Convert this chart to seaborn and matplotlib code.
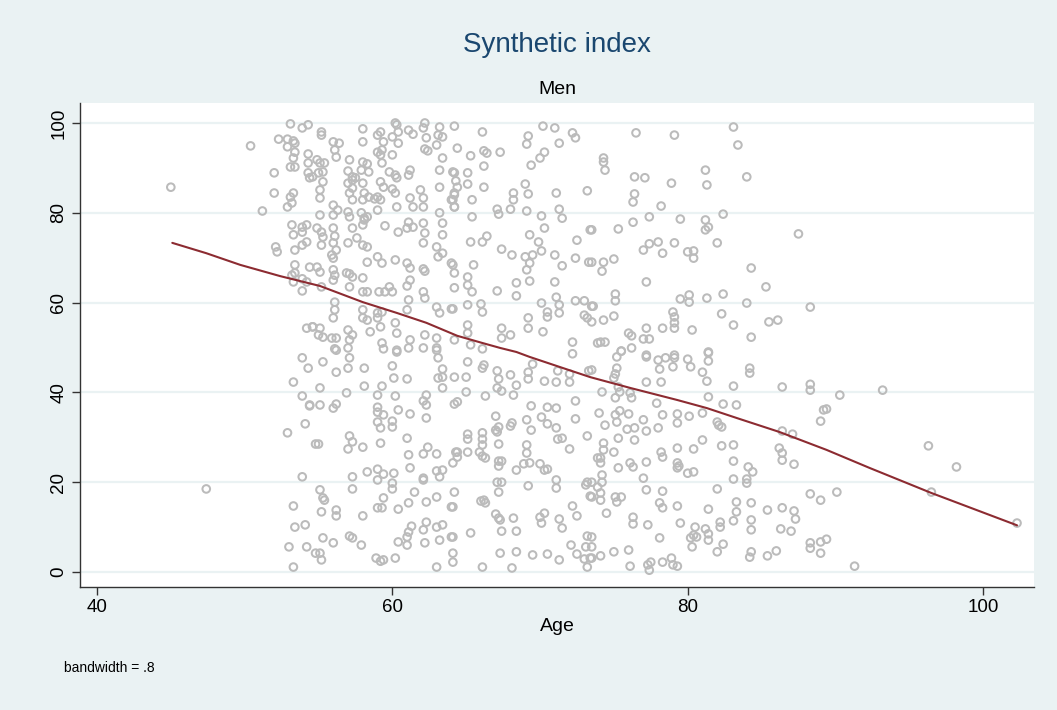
import matplotlib
matplotlib.use("Agg")
import matplotlib.pyplot as plt
import seaborn as sns
import pandas as pd

# ---------------- data (age, synthetic index) ----------------
pts_young = [
    (45.0, 85.7), (47.4, 18.5), (50.4, 94.9), (51.2, 80.4), (52.3, 96.4), (52.0, 88.9), (52.0, 84.4),
    (52.1, 72.4), (52.2, 71.3), (53.1, 99.8), (53.9, 98.9), (54.3, 99.6), (52.9, 96.4), (53.3, 96.0),
    (53.4, 95.5), (52.9, 94.7), (53.4, 93.5), (53.3, 92.2), (53.1, 90.2), (53.4, 90.2), (54.3, 93.1),
    (54.3, 91.1), (54.3, 88.9), (54.4, 87.8), (53.3, 84.4), (53.1, 83.5), (53.2, 82.2), (52.9, 81.3),
    (53.2, 77.3), (53.3, 75.1), (53.9, 76.8), (54.2, 77.3), (53.9, 75.7), (53.9, 72.8), (54.2, 73.5),
    (53.4, 71.7), (53.4, 68.4), (54.4, 67.9), (53.2, 66.1), (53.4, 66.6), (53.3, 64.6), (53.9, 65.3),
    (54.2, 64.6), (53.9, 62.6), (54.2, 54.3), (54.6, 54.6), (53.9, 47.7), (54.3, 45.4), (53.3, 42.3),
    (53.9, 39.2), (54.4, 37.0), (54.1, 33.0), (52.9, 31.0), (54.8, 28.5), (53.9, 21.2), (53.3, 14.7),
    (53.4, 10.0), (54.1, 10.5), (53.0, 5.6), (54.2, 5.6), (54.8, 4.2), (53.3, 1.1),
]

pts_55_64_high = [
    (55.2, 98.0), (55.2, 97.3), (56.0, 95.8), (56.4, 95.5), (56.1, 94.0), (56.2, 92.4), (57.1, 91.8),
    (54.9, 91.8), (55.1, 91.1), (55.4, 91.1), (55.3, 89.1), (55.0, 88.9), (54.6, 88.0), (58.0, 98.7),
    (58.0, 95.8), (59.0, 97.3), (59.2, 98.0), (59.4, 95.8), (59.0, 93.5), (59.2, 92.9), (59.3, 94.0),
    (59.3, 91.1), (60.2, 100.0), (60.3, 99.6), (60.0, 96.9), (60.4, 98.0), (60.4, 95.5), (60.0, 92.9),
    (61.1, 98.4), (61.4, 97.5), (62.2, 100.0), (62.1, 98.9), (62.3, 96.7), (62.2, 94.2), (62.4, 93.8),
    (63.2, 99.1), (63.1, 97.3), (63.4, 96.9), (63.0, 95.1), (63.4, 92.2), (58.0, 91.3), (58.3, 90.9),
    (57.9, 89.5), (58.4, 89.1), (57.0, 89.3), (57.3, 88.0), (59.8, 89.1), (60.2, 88.4), (60.3, 87.8),
    (61.2, 89.5), (61.1, 88.4), (63.2, 89.5), (64.1, 89.1), (55.3, 86.9), (55.1, 85.1), (55.1, 83.3),
    (57.3, 87.3), (57.0, 86.6), (57.3, 85.5), (57.5, 87.8), (57.1, 84.4), (58.0, 86.6), (58.1, 84.4),
    (59.2, 86.9), (59.4, 85.7), (59.0, 83.5), (60.0, 85.3), (60.2, 84.4), (57.3, 82.9), (58.0, 82.9),
    (58.4, 83.5), (58.8, 83.1), (59.2, 82.9), (61.2, 83.3), (61.9, 85.1), (62.1, 83.3), (62.1, 81.3),
    (63.2, 85.7), (64.0, 82.9), (64.2, 84.4), (60.3, 81.3), (61.4, 81.3), (56.0, 81.7), (56.3, 80.6),
    (55.1, 79.5), (56.0, 79.5), (57.0, 80.2), (57.1, 79.1), (57.9, 80.0), (58.1, 78.8), (58.3, 79.1),
    (59.0, 80.6), (63.2, 80.0), (64.2, 81.3), (54.9, 76.6), (55.2, 75.7), (55.3, 74.6), (56.0, 76.6),
    (56.1, 74.8), (57.3, 76.6), (58.0, 77.3), (58.1, 78.4), (59.5, 77.1), (60.4, 75.7), (61.1, 77.9),
    (61.4, 76.8), (61.0, 76.6), (62.1, 77.7), (62.2, 75.5), (62.1, 73.3), (63.4, 77.7), (63.4, 75.1),
    (55.2, 72.8), (56.0, 73.3), (56.2, 71.7), (57.0, 73.3), (57.6, 74.4), (58.0, 72.8), (58.3, 72.4),
    (63.0, 72.4), (63.1, 70.2), (63.4, 71.0), (55.9, 70.6), (56.0, 69.9), (58.3, 69.0), (59.0, 70.2),
    (59.3, 68.8), (60.2, 69.5), (61.0, 68.8), (61.2, 67.7), (62.1, 67.5), (62.2, 67.0), (54.9, 67.9),
    (55.1, 66.8), (56.0, 67.3), (56.1, 66.1), (56.9, 66.6), (57.1, 66.4), (57.3, 65.7), (58.0, 65.5),
    (64.0, 68.8), (55.2, 63.5), (56.0, 65.0), (56.1, 60.1), (56.1, 58.4), (56.0, 56.6), (57.1, 63.5),
    (58.0, 62.4), (58.3, 62.4), (59.1, 62.4), (59.5, 62.4), (59.8, 63.5), (60.0, 62.4), (61.0, 63.7),
    (61.2, 65.0), (62.1, 62.4), (62.2, 61.0), (58.0, 58.4), (59.0, 57.7), (59.0, 56.6), (59.3, 57.9),
    (60.2, 55.5), (61.1, 60.6), (61.0, 58.4), (63.0, 59.0), (63.2, 57.7), (64.0, 58.6), (54.6, 54.6),
    (55.1, 54.3), (55.3, 52.3), (55.0, 52.8), (55.9, 52.1), (56.2, 52.1), (57.0, 53.9), (57.3, 52.8),
    (57.1, 51.7), (58.0, 56.6), (58.3, 56.1), (58.5, 53.5), (59.2, 54.6), (59.3, 51.0), (59.4, 49.7),
    (60.3, 53.2), (60.3, 49.4), (61.1, 49.9), (61.2, 51.7), (62.2, 52.8), (63.0, 52.1), (63.0, 49.9),
    (56.1, 49.7), (57.0, 49.9),
]

pts_55_64_low = [
    (56.2, 49.4), (57.1, 47.7), (55.3, 46.8), (56.2, 44.5), (57.0, 45.4), (58.1, 45.4), (60.3, 49.0),
    (62.1, 49.9), (63.0, 49.4), (63.1, 47.7), (60.0, 45.9), (60.1, 43.2), (61.0, 43.0), (63.4, 45.2),
    (63.1, 43.2), (63.4, 43.4), (55.1, 41.0), (58.1, 41.4), (59.3, 41.4), (56.9, 39.9), (59.0, 39.4),
    (60.2, 39.2), (63.4, 41.0), (54.4, 37.2), (55.1, 37.2), (56.0, 36.5), (56.2, 37.4), (59.0, 36.7),
    (59.0, 35.6), (59.4, 35.0), (60.4, 36.1), (61.2, 35.2), (62.3, 39.4), (62.1, 38.1), (62.3, 37.2),
    (62.3, 34.3), (59.0, 33.4), (59.2, 32.1), (60.0, 33.6), (60.0, 32.3), (57.1, 30.3), (57.3, 29.0),
    (57.0, 27.4), (58.0, 27.8), (59.2, 28.7), (61.0, 29.8), (55.0, 28.5), (61.1, 26.1), (62.1, 26.3),
    (62.4, 27.8), (63.0, 26.3), (64.3, 26.7), (57.3, 21.2), (58.3, 22.3), (59.0, 22.9), (59.4, 21.8),
    (59.0, 20.5), (60.1, 22.0), (61.2, 23.2), (62.1, 20.9), (62.1, 20.5), (63.0, 22.5), (63.4, 22.7),
    (63.2, 21.2), (55.1, 18.3), (55.3, 16.5), (55.4, 16.0), (57.3, 18.5), (60.0, 19.8), (60.0, 18.5),
    (59.4, 16.5), (61.5, 17.8), (55.2, 13.4), (56.2, 13.8), (56.2, 12.5), (58.0, 12.5), (59.0, 14.3),
    (59.3, 14.3), (60.4, 14.0), (61.1, 15.4), (62.3, 15.6), (63.0, 16.7), (64.0, 14.5), (61.3, 10.2),
    (61.1, 8.9), (61.0, 7.8), (62.1, 9.4), (62.3, 11.1), (63.0, 10.0), (63.4, 10.5), (60.4, 6.7),
    (61.0, 6.0), (62.2, 6.5), (63.2, 7.1), (64.0, 7.8), (55.3, 7.6), (56.0, 6.5), (57.1, 8.0),
    (57.3, 7.6), (57.9, 6.0), (55.1, 4.2), (55.2, 2.7), (58.9, 3.1), (59.2, 2.4), (59.4, 2.7),
    (60.2, 3.1), (63.0, 1.1),
]

pts_64_74_high = [
    (64.2, 99.3), (66.1, 98.0), (70.2, 99.3), (71.0, 98.9), (72.2, 97.8), (72.4, 96.7), (69.2, 97.1),
    (69.1, 95.3), (71.3, 95.5), (64.4, 94.4), (65.3, 92.7), (66.2, 93.8), (66.4, 93.3), (67.3, 93.5),
    (70.3, 93.5), (70.0, 92.2), (69.4, 90.6), (66.2, 90.4), (64.2, 88.9), (65.1, 88.9), (64.3, 87.1),
    (64.4, 85.7), (64.2, 84.0), (64.1, 82.9), (64.2, 81.3), (65.1, 86.4), (66.2, 85.7), (65.4, 82.9),
    (69.0, 86.4), (69.2, 84.2), (68.2, 84.4), (68.2, 82.9), (71.1, 84.4), (73.2, 84.9), (67.1, 80.8),
    (67.2, 79.7), (68.0, 80.8), (69.1, 80.4), (71.3, 80.8), (71.5, 78.8), (70.1, 79.3), (65.4, 79.1),
    (70.3, 76.6), (65.3, 73.5), (66.1, 73.5), (66.4, 74.8), (69.3, 75.1), (69.9, 73.5), (72.5, 73.9),
    (73.4, 76.2), (67.4, 71.9), (68.1, 70.6), (69.0, 70.2), (69.5, 70.6), (69.3, 68.8), (69.1, 67.3),
    (70.1, 71.5), (71.0, 70.6), (71.5, 68.2), (72.4, 69.9), (73.3, 69.0), (64.1, 68.4), (64.2, 66.6),
    (65.5, 68.4), (65.1, 65.7), (65.1, 63.9), (65.4, 62.4), (64.2, 63.3), (68.4, 64.4), (68.4, 61.5),
    (69.3, 64.8), (71.0, 64.6), (67.1, 62.6), (64.1, 58.6), (65.1, 59.5), (66.0, 59.7), (66.1, 57.9),
    (70.1, 59.9), (71.1, 61.2), (71.3, 59.5), (72.4, 60.4), (73.0, 60.4), (73.5, 59.2), (70.5, 57.9),
    (70.5, 56.8), (71.3, 57.7), (73.0, 57.2), (73.2, 56.6), (69.2, 56.6), (69.2, 54.3), (70.2, 53.5),
    (67.4, 54.3), (68.0, 52.8), (67.4, 52.1), (65.1, 55.0), (65.1, 53.2), (65.3, 50.6), (66.1, 49.7),
    (64.2, 51.7), (72.2, 51.2), (73.9, 51.0),
]

pts_64_74_low = [
    (65.1, 46.8), (66.1, 45.4), (66.2, 46.1), (67.1, 44.8), (67.2, 43.0), (68.0, 43.9), (68.4, 41.6),
    (69.2, 44.5), (69.2, 43.0), (69.5, 46.3), (64.2, 43.4), (65.0, 43.4), (70.3, 42.5), (71.1, 42.3),
    (72.0, 42.3), (72.0, 44.1), (71.2, 44.8), (72.2, 48.6), (73.3, 44.8), (67.1, 41.0), (67.4, 40.3),
    (68.2, 39.4), (66.3, 39.2), (65.0, 40.1), (64.2, 37.4), (64.4, 37.9), (69.4, 37.0), (70.5, 36.7),
    (71.1, 36.5), (72.4, 38.1), (67.0, 34.7), (69.1, 33.9), (70.1, 34.5), (70.5, 33.0), (71.1, 32.1),
    (72.4, 34.1), (68.1, 33.2), (68.0, 32.5), (67.0, 31.6), (67.1, 31.2), (67.2, 32.3), (69.4, 31.6),
    (73.2, 30.3), (65.1, 30.7), (65.1, 29.6), (66.1, 31.0), (66.1, 29.6), (66.1, 28.3), (67.2, 28.5),
    (69.1, 28.3), (71.2, 29.6), (71.5, 29.8), (72.0, 27.4), (64.4, 26.7), (64.4, 25.6), (65.1, 26.7),
    (65.9, 26.7), (66.1, 25.8), (66.3, 25.4), (64.1, 24.3), (67.2, 24.7), (67.2, 23.6), (67.4, 24.7),
    (69.1, 26.5), (68.4, 22.7), (68.9, 24.1), (69.3, 24.3), (70.0, 24.1), (70.3, 22.7), (70.5, 22.9),
    (73.9, 25.4), (67.1, 20.0), (67.4, 20.0), (67.2, 17.8), (69.2, 19.2), (71.1, 20.5), (71.1, 18.7),
    (73.2, 20.0), (73.1, 19.4), (73.4, 16.9), (64.2, 17.8), (64.1, 14.5), (66.0, 15.8), (66.2, 16.0),
    (66.3, 15.4), (67.0, 12.9), (67.2, 12.0), (67.3, 11.6), (68.2, 12.0), (70.0, 12.2), (70.3, 13.1),
    (70.1, 10.9), (71.3, 11.8), (71.5, 9.8), (72.2, 14.7), (72.5, 12.5), (64.1, 7.8), (65.3, 8.7),
    (67.4, 9.1), (68.4, 9.1), (73.2, 8.0), (72.1, 6.0), (73.1, 5.6), (64.1, 4.2), (64.1, 2.2),
    (67.3, 4.2), (68.4, 4.5), (69.5, 3.8), (70.5, 4.0), (71.3, 2.7), (72.5, 4.0), (73.0, 2.9),
    (73.4, 3.1), (66.1, 1.1), (68.1, 0.9), (73.2, 1.1),
]

pts_74_84_high = [
    (76.5, 97.8), (79.1, 97.3), (74.3, 92.2), (74.3, 91.3), (74.4, 89.5), (76.4, 88.0), (77.1, 87.8),
    (78.9, 86.6), (81.2, 89.5), (81.3, 86.2), (76.4, 84.2), (76.3, 82.4), (78.2, 81.5), (75.3, 76.4),
    (76.3, 77.9), (77.4, 79.1), (79.5, 78.6), (81.2, 78.4), (81.4, 76.8), (81.2, 76.2), (82.4, 79.7),
    (73.5, 76.2), (77.0, 71.7), (77.4, 73.1), (78.0, 73.5), (78.3, 71.0), (79.1, 73.3), (80.0, 71.3),
    (80.4, 71.5), (80.4, 69.9), (82.0, 73.3), (73.5, 69.0), (74.3, 69.0), (74.2, 67.0), (75.0, 69.7),
    (77.2, 64.6), (75.1, 61.9), (75.1, 60.4), (73.6, 59.2), (79.5, 60.8), (80.1, 61.7), (80.1, 60.1),
    (81.3, 61.0), (82.4, 61.9), (74.3, 56.1), (75.0, 57.0), (73.5, 55.7), (79.0, 57.9), (79.1, 56.8),
    (79.1, 55.5), (79.1, 54.3), (77.2, 54.3), (78.3, 54.3), (80.3, 53.9), (82.3, 57.5), (76.0, 53.2),
    (76.2, 52.6), (77.0, 51.9), (77.4, 51.9), (74.1, 51.2), (74.4, 51.2), (75.5, 49.2), (76.2, 49.9),
    (77.2, 48.3), (79.1, 48.3), (81.4, 49.0),
    (83.1, 99.1), (83.4, 95.1), (84.0, 88.0), (87.5, 75.3), (84.3, 67.7), (85.3, 63.5), (84.0, 59.9),
    (88.3, 59.0), (83.1, 55.0), (85.5, 55.7), (86.1, 56.1), (84.3, 52.3),
]

pts_74_84_low = [
    (75.2, 47.9), (75.5, 49.2), (77.2, 47.9), (78.0, 47.2), (78.5, 47.7), (79.1, 47.7), (80.0, 47.4),
    (81.4, 48.8), (81.4, 47.0), (78.1, 45.2), (79.0, 45.7), (80.2, 45.7), (75.2, 45.4), (75.1, 44.1),
    (75.0, 43.2), (81.0, 44.5), (81.3, 42.5), (73.5, 45.0), (77.2, 42.3), (78.2, 42.3), (74.2, 40.1),
    (75.3, 41.2), (75.4, 40.1), (76.1, 39.9), (76.2, 38.8), (75.1, 38.8), (81.4, 39.0), (77.9, 37.6),
    (82.4, 37.4), (74.0, 35.4), (75.1, 35.0), (75.4, 35.9), (76.0, 35.2), (77.0, 33.9), (78.3, 35.0),
    (79.3, 35.2), (79.3, 33.2), (80.1, 34.7), (81.0, 35.4), (82.0, 33.4), (82.1, 32.7), (82.3, 32.3),
    (74.4, 32.7), (75.2, 33.4), (75.9, 31.8), (76.4, 32.1), (77.2, 31.4), (78.0, 32.1), (75.3, 29.8),
    (76.4, 29.4), (81.0, 29.4), (74.3, 28.7), (74.3, 27.2), (75.0, 26.7), (79.3, 27.6), (80.4, 27.4),
    (82.3, 28.1), (74.1, 25.4), (74.1, 24.3), (76.1, 24.3), (76.3, 23.4), (77.2, 24.5), (78.2, 26.7),
    (78.3, 25.6), (79.3, 24.3), (79.4, 23.6), (79.3, 23.2), (80.0, 22.0), (80.4, 22.3), (75.3, 23.2),
    (74.2, 21.6), (74.2, 20.0), (73.5, 20.0), (73.9, 18.9), (74.1, 17.6), (73.5, 16.7), (74.1, 16.0),
    (77.0, 20.9), (77.2, 18.3), (78.3, 18.0), (82.0, 18.5), (75.1, 16.7), (75.2, 15.6), (75.5, 16.7),
    (78.1, 15.4), (78.3, 14.3), (79.3, 14.7), (81.4, 14.0), (74.5, 13.1), (76.3, 12.2), (76.3, 10.7),
    (77.3, 10.5), (79.5, 10.9), (80.5, 10.0), (81.2, 9.6), (81.4, 8.5), (81.4, 7.1), (82.2, 11.1),
    (82.2, 10.0), (80.2, 7.6), (80.4, 8.2), (80.6, 7.8), (80.3, 5.6), (78.1, 7.6), (82.4, 6.2),
    (82.0, 4.5), (73.5, 7.8), (73.5, 5.6), (73.5, 3.1), (74.1, 3.6), (75.0, 4.5), (76.0, 4.9),
    (76.1, 1.3), (77.3, 1.6), (77.4, 0.4), (77.5, 2.2), (78.3, 2.2), (78.9, 3.1), (79.0, 1.6),
    (79.3, 1.3),
]

pts_old = [
    (84.2, 45.4), (84.2, 44.3), (83.1, 41.4), (86.4, 41.2), (88.3, 41.8), (88.3, 40.5), (90.3, 39.4),
    (83.3, 37.2), (89.2, 36.1), (89.4, 36.3), (89.0, 33.6), (86.4, 31.4), (87.1, 30.7), (83.1, 28.3),
    (86.2, 27.6), (86.4, 26.5), (86.4, 24.9), (87.2, 24.0), (83.1, 24.7), (84.1, 23.4), (84.4, 22.3),
    (83.1, 20.7), (84.0, 20.7), (84.0, 19.8), (88.3, 17.4), (89.0, 16.0), (90.1, 17.8), (83.3, 15.6),
    (83.3, 13.4), (83.1, 11.4), (84.3, 15.4), (85.4, 13.8), (86.4, 14.3), (87.2, 13.6), (87.3, 11.8),
    (84.3, 11.6), (84.3, 9.4), (86.3, 9.6), (87.0, 9.1), (88.3, 6.5), (88.3, 5.3), (89.0, 6.7),
    (89.4, 7.3), (89.0, 4.2), (84.3, 4.5), (84.2, 3.3), (85.4, 3.6), (86.0, 4.7), (91.3, 1.3),
    (93.2, 40.5), (96.3, 28.1), (98.2, 23.4), (96.5, 17.8), (102.3, 10.9),
]

# lowess curve (bandwidth .8)
fit_age = [45.1, 47.4, 49.7, 52.4, 55.1, 58.0, 60.3, 62.3, 64.4, 66.1, 67.3, 68.4, 69.3, 71.3,
           73.4, 76.1, 79.3, 81.3, 83.5, 86.2, 89.4, 92.3, 96.5, 102.3]
fit_val = [73.3, 71.0, 68.4, 65.9, 63.7, 60.1, 57.7, 55.5, 52.6, 51.0, 49.9, 49.0, 47.9, 45.7,
           43.4, 41.0, 38.3, 36.5, 34.1, 31.2, 27.2, 23.2, 17.6, 10.4]

title = "Synthetic index"
subtitle = "Men"
x_label = "Age"
note = "bandwidth = .8"
x_ticks = [40, 60, 80, 100]
y_ticks = [0, 20, 40, 60, 80, 100]

# ---------------- build ----------------
all_pts = (pts_young + pts_55_64_high + pts_55_64_low + pts_64_74_high + pts_64_74_low
           + pts_74_84_high + pts_74_84_low + pts_old)
df = pd.DataFrame(all_pts, columns=["age", "index"])
fit = pd.DataFrame({"age": fit_age, "index": fit_val})

sns.set_theme(style="white")
plt.rcParams["font.family"] = ["Liberation Sans", "DejaVu Sans"]

BG = "#EAF2F3"
fig = plt.figure(figsize=(10.57, 7.10), dpi=100, facecolor=BG)
ax = fig.add_axes([80 / 1057, 1 - 587 / 710, (1034 - 80) / 1057, (587 - 103) / 710])
ax.set_facecolor("white")

for yv in y_ticks:
    ax.axhline(yv, color=BG, lw=1.6, zorder=0)

sns.scatterplot(data=df, x="age", y="index", ax=ax, marker="o", s=30,
                facecolor="none", edgecolor="#BBBBBB", linewidth=1.45, zorder=2, legend=False)
sns.lineplot(data=fit, x="age", y="index", ax=ax, sort=False, estimator=None,
             color="#8C2B31", lw=1.5, zorder=3)

ax.set_xlim(38.85, 103.45)
ax.set_ylim(-3.34, 104.45)
ax.set_xticks(x_ticks)
ax.set_yticks(y_ticks)
ax.set_xticklabels([str(t) for t in x_ticks], fontsize=13.5, color="black")
ax.set_yticklabels([str(t) for t in y_ticks], fontsize=13.5, color="black",
                   rotation=90, va="center")
ax.tick_params(axis="both", direction="out", length=6, width=1, color="#333333", pad=3,
               bottom=True, left=True)
ax.set_xlabel(x_label, fontsize=14, color="black", labelpad=1)
ax.set_ylabel("")
for side in ["top", "right"]:
    ax.spines[side].set_visible(False)
for side in ["left", "bottom"]:
    ax.spines[side].set_color("#333333")
    ax.spines[side].set_linewidth(1.0)

fig.text(557 / 1057, 1 - 45 / 710, title, ha="center", va="center", fontsize=20, color="#1A476F")
fig.text(557 / 1057, 1 - 89 / 710, subtitle, ha="center", va="center", fontsize=14, color="black")
fig.text(64 / 1057, 1 - 668 / 710, note, ha="left", va="center", fontsize=10, color="black")

fig.savefig("out.png", dpi=100, facecolor=BG)
